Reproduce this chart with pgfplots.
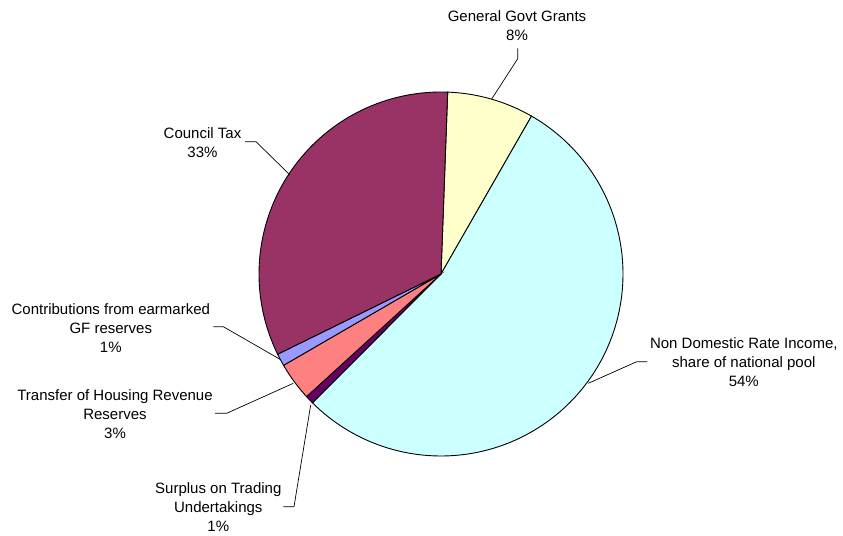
\documentclass[border=0pt]{standalone}
\usepackage{pgfplots}
\pgfplotsset{compat=1.18}
\usepackage{fontspec}
\setmainfont{Liberation Sans}
\definecolor{cCon}{HTML}{9999FF}
\definecolor{cCou}{HTML}{993366}
\definecolor{cGGG}{HTML}{FFFFCC}
\definecolor{cNDR}{HTML}{CCFFFF}
\definecolor{cSur}{HTML}{660066}
\definecolor{cTra}{HTML}{FF8080}
% shares in percent (clockwise from the top)
\def\pGGG{7.7}
\def\pNDR{54.2}
\def\pSur{0.75}
\def\pTra{3.4}
\def\pCon{1.1}
\def\pCou{32.85}
\def\cx{441}\def\cy{262}\def\R{182}
\pgfmathsetmacro\aZ{87.9}
\pgfmathsetmacro\aA{\aZ-3.6*\pGGG}
\pgfmathsetmacro\aB{\aA-3.6*\pNDR}
\pgfmathsetmacro\aC{\aB-3.6*\pSur}
\pgfmathsetmacro\aD{\aC-3.6*\pTra}
\pgfmathsetmacro\aE{\aD-3.6*\pCon}
\pgfmathsetmacro\aF{\aE-3.6*\pCou}
\newcommand{\pieslice}[3]{%
  \addplot[fill=#1, draw=black, line width=0.9bp, domain=#3:#2, samples=120, variable=\t]
    ({\cx+\R*cos(\t)},{\cy+\R*sin(\t)}) -- (axis cs:\cx,\cy) -- cycle;}
\tikzset{lbl/.style={font=\fontsize{15bp}{19bp}\selectfont, align=center, inner sep=0pt}}
\begin{document}
\begin{tikzpicture}
\begin{axis}[
  scale only axis, width=843bp, height=536bp,
  xmin=0, xmax=843, ymin=0, ymax=536,
  hide axis, clip=false,
]
\pieslice{cGGG}{\aZ}{\aA}
\pieslice{cNDR}{\aA}{\aB}
\pieslice{cSur}{\aB}{\aC}
\pieslice{cTra}{\aC}{\aD}
\pieslice{cCon}{\aD}{\aE}
\pieslice{cCou}{\aE}{\aF}
% leader lines
\draw[line width=0.7bp] (axis cs:517.7,487.7) -- (axis cs:517.7,477.3) -- (axis cs:491.7,437);
\draw[line width=0.7bp] (axis cs:245,394.3) -- (axis cs:256,394.3) -- (axis cs:290,361);
\draw[line width=0.7bp] (axis cs:213.3,209.3) -- (axis cs:223.3,209.3) -- (axis cs:280,176.7);
\draw[line width=0.7bp] (axis cs:215,122.7) -- (axis cs:226.7,122.7) -- (axis cs:293.3,152.7);
\draw[line width=0.7bp] (axis cs:283.3,29.3) -- (axis cs:294,29.3) -- (axis cs:310.7,131);
\draw[line width=0.7bp] (axis cs:647.3,174.3) -- (axis cs:636.7,174.3) -- (axis cs:588.3,152.7);
% labels
\node[lbl] at (axis cs:517,510) {General Govt Grants\\8\%};
\node[lbl] at (axis cs:202.5,393.5) {Council Tax\\33\%};
\node[lbl] at (axis cs:110.8,208) {Contributions from earmarked\\GF reserves\\1\%};
\node[lbl] at (axis cs:115,122) {Transfer of Housing Revenue\\Reserves\\3\%};
\node[lbl] at (axis cs:218.3,29) {Surplus on Trading\\Undertakings\\1\%};
\node[lbl] at (axis cs:743.8,174.3) {Non Domestic Rate Income,\\share of national pool\\54\%};
\end{axis}
\pgfresetboundingbox
\useasboundingbox (current axis.south west) rectangle (current axis.north east);
\end{tikzpicture}
\end{document}
